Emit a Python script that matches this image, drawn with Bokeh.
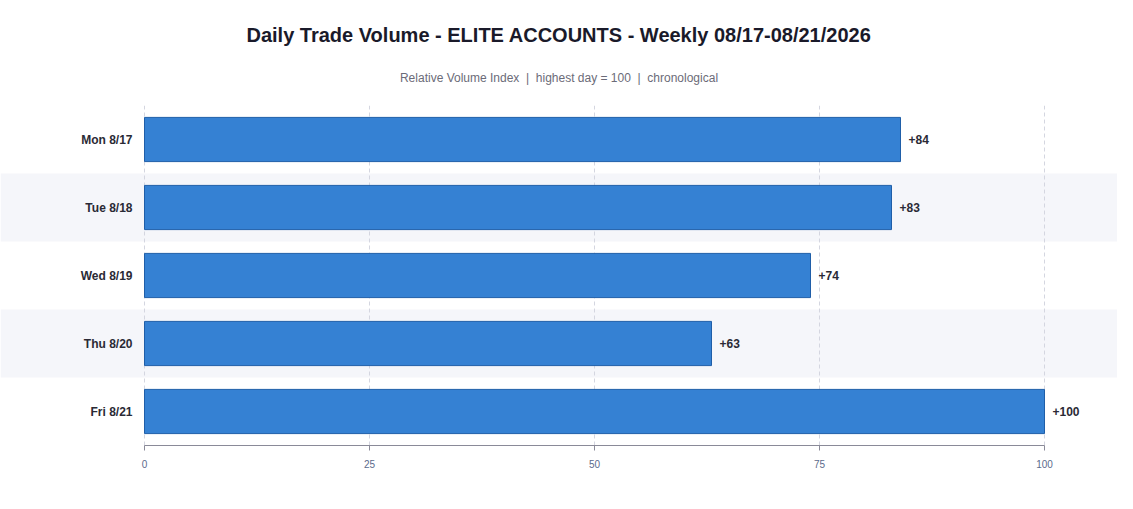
from bokeh.plotting import figure
from bokeh.models import ColumnDataSource, FixedTicker, Title, Range1d
from bokeh.core.properties import value
from bokeh.embed import file_html
from bokeh.resources import INLINE

# data
days = ["Mon 8/17", "Tue 8/18", "Wed 8/19", "Thu 8/20", "Fri 8/21"]
volume_index = [84, 83, 74, 63, 100]
x_ticks = [0, 25, 50, 75, 100]

FONT = "Liberation Sans"
SP = "\u00a0\u00a0|\u00a0\u00a0"

n = len(days)
ypos = [n - 1 - i for i in range(n)]  # Mon on top
src = ColumnDataSource(data=dict(
    day=days,
    y=ypos,
    v=volume_index,
    lbl=["+%d" % v for v in volume_index],
    zero=[0] * n,
))

band_y = [ypos[i] for i in range(n) if i % 2 == 1]

W = 1117
p = figure(width=W, height=493, output_backend="svg", toolbar_location=None,
           x_range=Range1d(-16, -16 + W / 9.0), y_range=Range1d(-0.5, n - 0.5),
           min_border_left=0, min_border_right=0, min_border_bottom=48,
           min_border_top=105)
p.outline_line_color = None
p.background_fill_color = "white"
p.border_fill_color = "white"

# main title is outermost, subtitle sits next to the plot
p.title.text = "Daily Trade Volume - ELITE ACCOUNTS - Weekly 08/17-08/21/2026"
p.title.text_font = FONT
p.title.text_font_size = "20px"
p.title.text_font_style = "bold"
p.title.text_color = "#1a1a2a"
p.title.align = "center"
p.title.vertical_align = "middle"
p.title.standoff = 12
p.add_layout(Title(text="Relative Volume Index" + SP + "highest day = 100" + SP + "chronological",
                   text_font=FONT, text_font_size="12px", text_font_style="normal",
                   text_color="#6b6b78", align="center", vertical_align="top",
                   standoff=37), "above")

# alternating row bands
bands = p.hbar(y=band_y, left=-20, right=120, height=1.0,
               fill_color="#f5f6fa", line_color=None)
bands.level = "image"

p.hbar(y="y", left="zero", right="v", height=0.65, source=src,
       fill_color="#3581d3", line_color="#1f5ea8", line_width=1)

p.text(x="v", y="y", text="lbl", source=src, x_offset=8,
       text_align="left", text_baseline="middle",
       text_font=value(FONT), text_font_size="12px", text_font_style="bold",
       text_color="#2a2a35")

p.text(x="zero", y="y", text="day", source=src, x_offset=-12,
       text_align="right", text_baseline="middle",
       text_font=value(FONT), text_font_size="12px", text_font_style="bold",
       text_color="#2a2a35")

p.yaxis.visible = False
p.ygrid.grid_line_color = None

p.xaxis.ticker = FixedTicker(ticks=x_ticks)
p.xaxis.bounds = (0, 100)
p.xaxis.axis_line_color = "#8a8a98"
p.xaxis.major_tick_line_color = "#8a8a98"
p.xaxis.major_tick_out = 5
p.xaxis.major_tick_in = 0
p.xaxis.minor_tick_line_color = None
p.xaxis.major_label_text_font = FONT
p.xaxis.major_label_text_font_size = "10px"
p.xaxis.major_label_text_color = "#5b6a8c"
p.xaxis.major_label_standoff = 9

p.xgrid.grid_line_color = "#d4d6e0"
p.xgrid.grid_line_dash = "4 3"
p.xgrid.grid_line_width = 1

open("out.html", "w").write(file_html(p, INLINE))
